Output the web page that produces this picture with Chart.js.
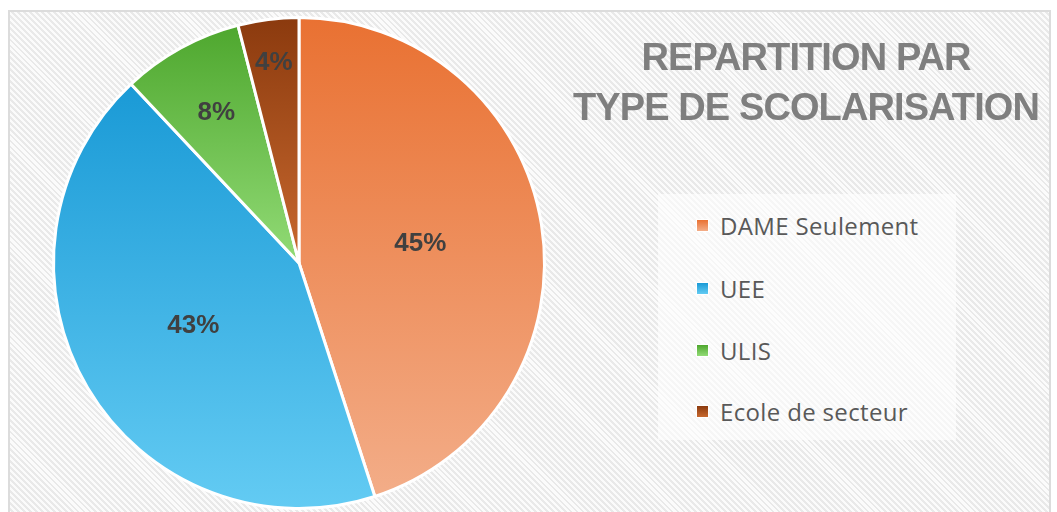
<!DOCTYPE html>
<html>
<head>
<meta charset="utf-8">
<script src="https://cdn.jsdelivr.net/npm/chart.js@4.4.1/dist/chart.umd.min.js"></script>
<style>
  html, body { margin:0; padding:0; background:#ffffff; }
  #wrap { position:relative; width:1057px; height:512px; overflow:hidden; background:#ffffff; }
  #frame { position:absolute; left:8px; top:10px; width:1043px; height:520px;
    border:2px solid #dcdcdc; box-sizing:border-box;
    background: repeating-linear-gradient(45deg, #e9e9e9 0px, #e9e9e9 2px, #fbfbfb 2px, #fbfbfb 4.2px); }
  #chartBox { position:absolute; left:0; top:0; width:600px; height:512px; }
  #title { position:absolute; left:556px; width:500px; top:32px; text-align:center;
    font-family:"Liberation Sans", Arial, sans-serif; font-weight:bold; font-size:38px; line-height:50px;
    letter-spacing:-0.9px; color:#7f7f7f; }
  #legendBg { position:absolute; left:658px; top:194px; width:298px; height:246px; background:rgba(255,255,255,0.6); }
  .item { position:absolute; left:697px; height:30px; display:flex; align-items:center;
    font-family:"Open Sans", sans-serif; font-size:24px; letter-spacing:0.35px; color:#595959; white-space:nowrap; }
  .sw { width:11px; height:11px; margin-right:12px; box-shadow:0 0 0 1px #ffffff; }
</style>
</head>
<body>
<div id="wrap">
  <div id="frame"></div>
  <div id="chartBox"><canvas id="c" width="600" height="512"></canvas></div>
  <div id="title">REPARTITION PAR<br>TYPE DE SCOLARISATION</div>
  <div id="legendBg"></div>
  <div id="legend"></div>
</div>
<script>
const categories = ["DAME Seulement", "UEE", "ULIS", "Ecole de secteur"];
const percentages = [45, 43, 8, 4];
const colorsTop = ["#E97132", "#1A9AD6", "#4EA72E", "#8B3A0E"];
const colorsBottom = ["#F3AD88", "#63CBF3", "#92DB76", "#C8692F"];
const labelRadiusFactor = [0.5, 0.5, 0.70, 0.82];

function sliceGradient(c) {
  const chart = c.chart, i = c.dataIndex;
  const area = chart.chartArea;
  if (!area) return colorsTop[i];
  const ctrl = chart.getDatasetMeta(0).controller;
  const cx = (area.left + area.right) / 2 + (ctrl.offsetX || 0);
  const cy = (area.top + area.bottom) / 2 + (ctrl.offsetY || 0);
  const R = ctrl.outerRadius || Math.min(area.width, area.height) / 2;
  const vals = chart.data.datasets[0].data;
  const total = vals.reduce((a, b) => a + b, 0);
  let before = 0;
  for (let k = 0; k < i; k++) before += vals[k];
  const a0 = -Math.PI / 2 + before / total * 2 * Math.PI;
  const a1 = a0 + vals[i] / total * 2 * Math.PI;
  const ys = [cy, cy + R * Math.sin(a0), cy + R * Math.sin(a1)];
  for (const t of [Math.PI / 2, 3 * Math.PI / 2, -Math.PI / 2]) {
    if (t >= a0 && t <= a1) ys.push(cy + R * Math.sin(t));
  }
  const y0 = Math.min(...ys), y1 = Math.max(...ys);
  const g = chart.ctx.createLinearGradient(0, y0, 0, y1);
  g.addColorStop(0, colorsTop[i]);
  g.addColorStop(1, colorsBottom[i]);
  return g;
}

const pctLabels = {
  id: 'pctLabels',
  afterDatasetsDraw(chart) {
    const meta = chart.getDatasetMeta(0);
    const ctx = chart.ctx;
    const vals = chart.data.datasets[0].data;
    const total = vals.reduce((a, b) => a + b, 0);
    ctx.save();
    ctx.font = 'bold 26px "Liberation Sans", Arial, sans-serif';
    ctx.fillStyle = '#404040';
    ctx.textAlign = 'center';
    ctx.textBaseline = 'middle';
    meta.data.forEach((arc, i) => {
      const p = arc.getProps(['x', 'y', 'startAngle', 'endAngle', 'outerRadius'], true);
      const mid = (p.startAngle + p.endAngle) / 2;
      const r = p.outerRadius * labelRadiusFactor[i];
      ctx.fillText(Math.round(vals[i] / total * 100) + '%', p.x + r * Math.cos(mid), p.y + r * Math.sin(mid));
    });
    ctx.restore();
  }
};

new Chart(document.getElementById('c'), {
  type: 'pie',
  data: {
    labels: categories,
    datasets: [{
      data: percentages,
      backgroundColor: sliceGradient,
      borderColor: '#ffffff',
      borderWidth: 3,
      hoverOffset: 0
    }]
  },
  options: {
    responsive: false,
    animation: false,
    layout: { padding: { left: 52, top: 16, right: 54, bottom: 2 } },
    plugins: { legend: { display: false }, tooltip: { enabled: false } }
  },
  plugins: [pctLabels]
});

const legendEl = document.getElementById('legend');
const rowCenters = [225, 288, 350, 411];
categories.forEach((name, i) => {
  const d = document.createElement('div');
  d.className = 'item';
  d.style.top = (rowCenters[i] - 15) + 'px';
  const sw = document.createElement('span');
  sw.className = 'sw';
  sw.style.background = 'linear-gradient(' + colorsTop[i] + ',' + colorsBottom[i] + ')';
  d.appendChild(sw);
  d.appendChild(document.createTextNode(name));
  legendEl.appendChild(d);
});
</script>
</body>
</html>
